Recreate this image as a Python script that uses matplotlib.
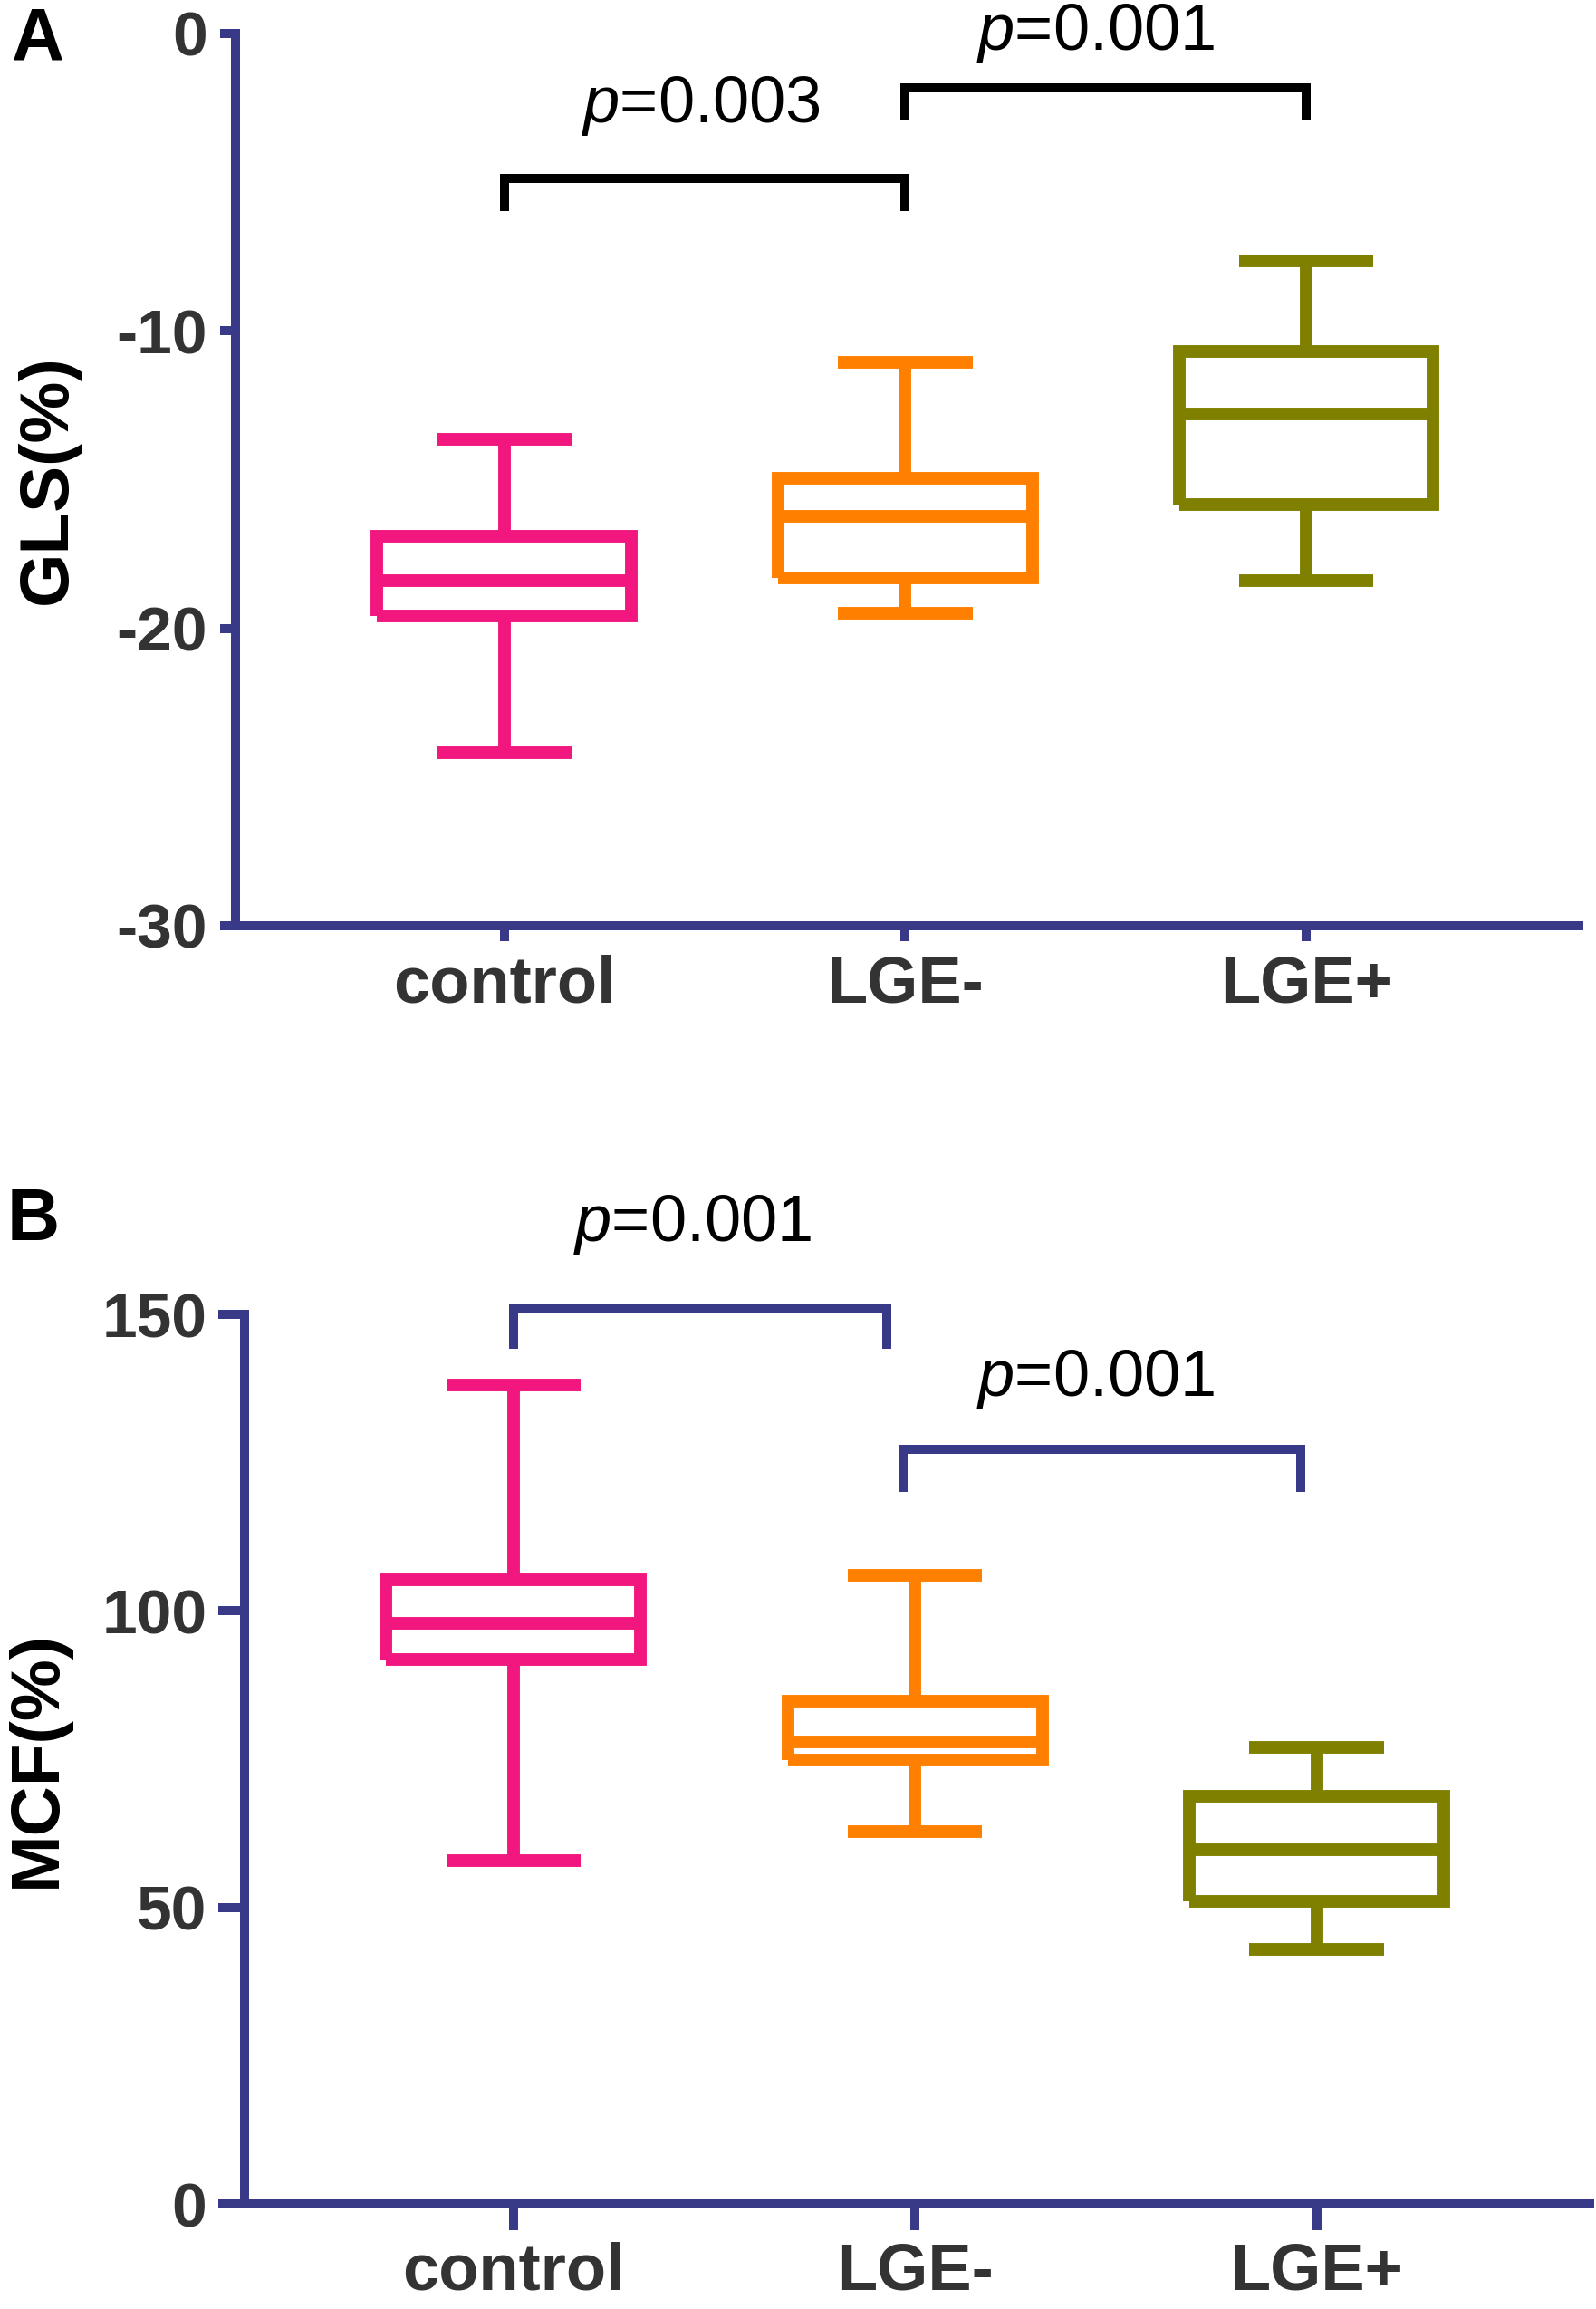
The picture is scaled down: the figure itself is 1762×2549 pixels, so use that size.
import matplotlib
matplotlib.use("Agg")
import matplotlib.pyplot as plt

plt.rcParams['font.family'] = ['Liberation Sans', 'DejaVu Sans']
plt.rcParams['mathtext.fontset'] = 'custom'
plt.rcParams['mathtext.rm'] = 'Liberation Sans'
plt.rcParams['mathtext.it'] = 'Liberation Sans:italic'
plt.rcParams['axes.unicode_minus'] = False

groups = ['control', 'LGE-', 'LGE+']
box_colors = ['#F2167F', '#FF8000', '#808000']

# panel A : GLS(%)
gls_lo = [-24.2, -19.5, -18.4]
gls_q1 = [-19.6, -18.3, -15.85]
gls_med = [-18.4, -16.25, -12.8]
gls_q3 = [-16.9, -14.95, -10.7]
gls_hi = [-13.65, -11.05, -7.65]

# panel B : MCF(%)
mcf_lo = [57.9, 62.8, 42.9]
mcf_q1 = [91.8, 74.8, 51.0]
mcf_med = [97.9, 77.9, 59.7]
mcf_q3 = [105.3, 84.8, 68.8]
mcf_hi = [138.1, 106.0, 77.0]

gls_pvals = ['0.003', '0.001']
mcf_pvals = ['0.001', '0.001']

axis_col = '#383A88'
tick_col = '#333333'


def make_stats(lo, q1, med, q3, hi):
    st = []
    for i in range(len(lo)):
        st.append({'whislo': lo[i], 'q1': q1[i], 'med': med[i],
                   'q3': q3[i], 'whishi': hi[i], 'fliers': []})
    return st


def draw_panel(ax, stats, yticks, ylim, ylabel, labx, tlen, tpad):
    pos = [1, 2, 3]
    res = ax.bxp(stats, positions=pos, widths=0.634, capwidths=0.335,
                 showfliers=False)
    for i, c in enumerate(box_colors):
        for art in [res['boxes'][i], res['medians'][i],
                    res['whiskers'][2 * i], res['whiskers'][2 * i + 1],
                    res['caps'][2 * i], res['caps'][2 * i + 1]]:
            art.set_color(c)
            art.set_linewidth(10)
            art.set_solid_joinstyle('miter')
            art.set_solid_capstyle('butt')
    ax.set_xlim(0.33, 3.68)
    ax.set_ylim(*ylim)
    ax.set_yticks(yticks)
    ax.set_xticks(pos)
    ax.set_xticklabels(groups)
    for s in ['top', 'right']:
        ax.spines[s].set_visible(False)
    for s in ['left', 'bottom']:
        ax.spines[s].set_color(axis_col)
        ax.spines[s].set_linewidth(7.2)
        ax.spines[s].set_capstyle('projecting')
    ax.tick_params(axis='both', direction='out', length=tlen, width=7.2,
                   color=axis_col, labelcolor=tick_col, pad=tpad)
    for t in ax.get_yticklabels():
        t.set_fontsize(50)
        t.set_fontweight('bold')
    for t in ax.get_xticklabels():
        t.set_fontsize(52)
        t.set_fontweight('bold')
    ax.set_ylabel(ylabel, fontsize=55, fontweight='bold', color='black')
    ax.yaxis.set_label_coords(labx, 0.5)


def bracket(ax, x1, x2, y, tip, col, txt, tx, ty):
    ax.plot([x1, x1, x2, x2], [tip, y, y, tip], color=col, lw=7.2,
            solid_joinstyle='miter', solid_capstyle='butt', clip_on=False)
    ax.text(tx, ty, '$p$=' + txt, fontsize=52, ha='center', va='center',
            color='black', clip_on=False)


fig = plt.figure(figsize=(17.62, 25.49), dpi=100)
axA = fig.add_axes([0.1476, 0.5991, 0.8417, 0.3864])
axB = fig.add_axes([0.1532, 0.0455, 0.8428, 0.3852])

draw_panel(axA, make_stats(gls_lo, gls_q1, gls_med, gls_q3, gls_hi),
           [0, -10, -20, -30], (-30, 0), 'GLS(%)', -0.1153, 12.5, 10)
draw_panel(axB, make_stats(mcf_lo, mcf_q1, mcf_med, mcf_q3, mcf_hi),
           [0, 50, 100, 150], (0, 150), 'MCF(%)', -0.130, 21, 9)

bracket(axA, 1, 2, -4.86, -5.97, 'black', gls_pvals[0], 1.49, -2.44)
bracket(axA, 2, 3, -1.84, -2.89, 'black', gls_pvals[1], 2.476, 0.0)
bracket(axB, 1, 1.93, 151.1, 144.2, axis_col, mcf_pvals[0], 1.446, 165.1)
bracket(axB, 1.97, 2.96, 127.3, 120.1, axis_col, mcf_pvals[1], 2.45, 139.0)

fig.text(42 / 1762, 1 - 44 / 2549, 'A', fontsize=58, fontweight='bold',
         ha='center', va='center')
fig.text(37 / 1762, 1 - 1348 / 2549, 'B', fontsize=58, fontweight='bold',
         ha='center', va='center')

fig.savefig('out.png', dpi=100, facecolor='white')
